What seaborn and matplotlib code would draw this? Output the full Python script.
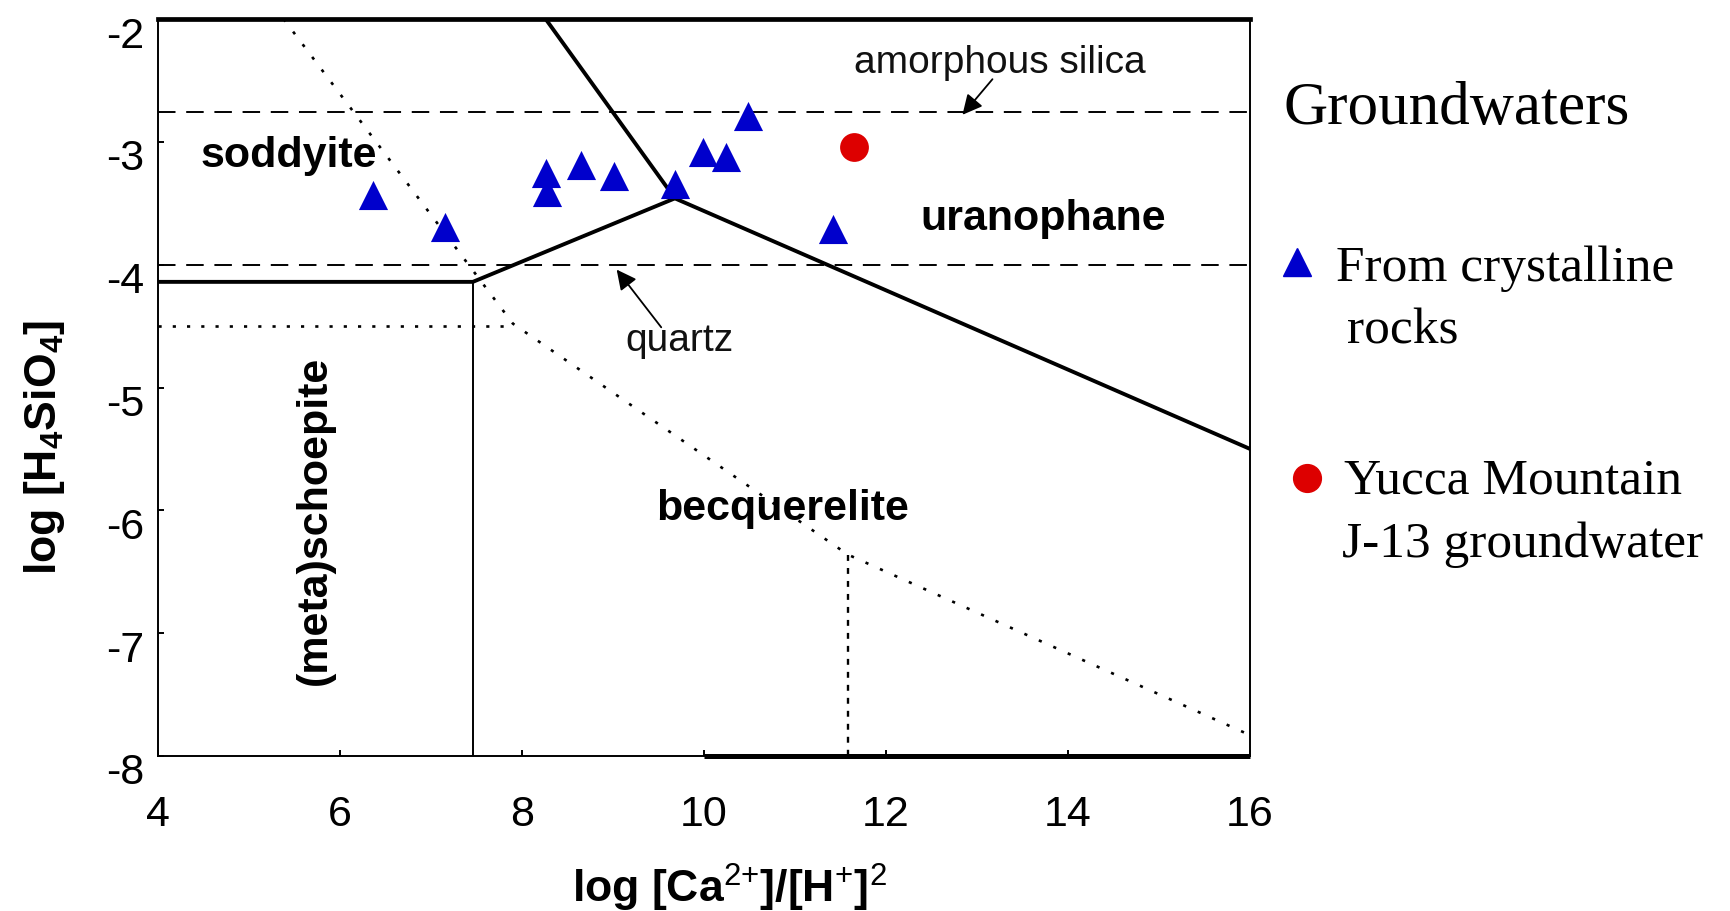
import matplotlib
matplotlib.use("Agg")
import matplotlib.pyplot as plt
import seaborn as sns
import pandas as pd
from matplotlib.transforms import ScaledTranslation
from matplotlib.lines import Line2D

# ---------------- data ----------------
x_ticks = [4, 6, 8, 10, 12, 14, 16]
y_ticks = [-8, -7, -6, -5, -4, -3, -2]

# groundwater samples
crystalline_x = [6.36, 7.15, 8.26, 8.28, 8.65, 9.01, 9.68, 9.99, 10.24, 10.48, 11.42]
crystalline_y = [-3.43, -3.69, -3.25, -3.41, -3.19, -3.28, -3.34, -3.08, -3.12, -2.79, -3.71]
yucca_x = [11.65]
yucca_y = [-3.04]

# stable phase boundaries (solid)
upper_bound_x = [8.26, 9.68]
upper_bound_y = [-2.0, -3.46]
lower_bound_x = [4.0, 7.46, 9.68, 16.0]
lower_bound_y = [-4.14, -4.14, -3.46, -5.50]
schoep_bound_x = [7.46, 7.46]
schoep_bound_y = [-4.14, -8.0]
bottom_bound_x = [10.0, 16.0]
bottom_bound_y = [-8.0, -8.0]

# metastable boundaries (dotted)
dot_curve_x = [5.38, 7.90, 11.58, 16.0]
dot_curve_y = [-2.0, -4.48, -6.36, -7.83]
dot_h_x = [4.0, 7.90]
dot_h_y = [-4.5, -4.5]
dot_v_x = [11.58, 11.58]
dot_v_y = [-6.36, -8.0]

# silica saturation levels (dashed)
amorphous_silica = -2.76
quartz = -4.0

# ---------------- style ----------------
sns.set_style("white")
plt.rcParams["font.family"] = ["Liberation Sans", "DejaVu Sans"]
plt.rcParams["mathtext.fontset"] = "custom"
plt.rcParams["mathtext.rm"] = "Liberation Sans"
plt.rcParams["mathtext.bf"] = "Liberation Sans:bold"
for k in ["text.color", "axes.labelcolor", "xtick.color", "ytick.color", "axes.edgecolor"]:
    plt.rcParams[k] = "black"

W, H = 1731, 912
fig = plt.figure(figsize=(W / 100, H / 100), dpi=100)
ax = fig.add_axes([158 / W, 1 - 757 / H, 1092 / W, 737 / H])

ax.set_xlim(4, 16)
ax.set_ylim(-8, -2)

black = "black"
thick = 2.8
thin = 1.4

# dashed silica lines
ax.axhline(amorphous_silica, color=black, lw=thin, ls=(0, (9, 5.5)))
ax.axhline(quartz, color=black, lw=thin, ls=(0, (9, 5.5)))

# dotted metastable lines
ax.plot(dot_curve_x, dot_curve_y, color=black, lw=1.9, ls=(0, (1.2, 4.8)))
ax.plot(dot_h_x, dot_h_y, color=black, lw=1.9, ls=(0, (1.2, 4.2)))
ax.plot(dot_v_x, dot_v_y, color=black, lw=1.7, ls=(0, (2.5, 3)))

# solid boundaries
ax.plot(upper_bound_x, upper_bound_y, color=black, lw=thick, solid_joinstyle="round")
ax.plot(lower_bound_x, lower_bound_y, color=black, lw=thick, solid_joinstyle="round")
ax.plot(schoep_bound_x, schoep_bound_y, color=black, lw=thin)
ax.plot(bottom_bound_x, bottom_bound_y, color=black, lw=3.6, clip_on=False,
        solid_capstyle="butt")

# samples
df_c = pd.DataFrame({"x": crystalline_x, "y": crystalline_y})
df_y = pd.DataFrame({"x": yucca_x, "y": yucca_y})
sns.scatterplot(data=df_c, x="x", y="y", marker="^", s=440, color="#0000cc",
                linewidth=0, ax=ax, zorder=5)
sns.scatterplot(data=df_y, x="x", y="y", marker="o", s=430, color="#dd0000",
                linewidth=0, ax=ax, zorder=5)

# region labels
lab_kw = dict(fontsize=31, fontweight="bold", ha="center", va="center", color=black)
ax.text(5.44, -3.11, "soddyite", **lab_kw)
ax.text(13.73, -3.62, "uranophane", **lab_kw)
ax.text(10.86, -5.98, "becquerelite", **lab_kw)
ax.text(5.72, -6.07, "(meta)schoepite", rotation=90, **lab_kw)

# silica annotations
ax.text(13.25, -2.35, "amorphous silica", fontsize=28, ha="center", va="center",
        color="#111111")
ax.annotate("", xy=(12.84, -2.78), xytext=(13.17, -2.49),
            arrowprops=dict(arrowstyle="-|>", color=black, lw=1.3,
                            mutation_scale=30, shrinkA=0, shrinkB=0))
ax.text(9.73, -4.61, "quartz", fontsize=28, ha="center", va="center", color="#111111")
ax.annotate("", xy=(9.04, -4.04), xytext=(9.53, -4.51),
            arrowprops=dict(arrowstyle="-|>", color=black, lw=1.3,
                            mutation_scale=30, shrinkA=0, shrinkB=0))

# axes / spines
for side in ["left", "right", "bottom"]:
    ax.spines[side].set_linewidth(thin)
    ax.spines[side].set_color(black)
ax.spines["top"].set_linewidth(3.4)
ax.spines["top"].set_color(black)

ax.set_xticks(x_ticks)
ax.set_yticks(y_ticks)
ax.set_xticklabels([str(v) for v in x_ticks])
ax.set_yticklabels([str(v) for v in y_ticks])
ax.tick_params(axis="both", direction="in", length=4.5, width=thin, colors=black,
               labelsize=31, top=False, right=False, left=True, bottom=True)
ax.tick_params(axis="x", pad=27)
ax.tick_params(axis="y", pad=10)
offset = ScaledTranslation(0, -12 / 100, fig.dpi_scale_trans)
for lbl in ax.get_yticklabels():
    lbl.set_transform(lbl.get_transform() + offset)

ax.set_xlabel(r"log [Ca$^{2{+}}$]/[H$^{{+}}$]$^{2}$", fontsize=32, fontweight="bold")
ax.set_ylabel(r"log [H$_\mathbf{4}$SiO$_\mathbf{4}$]", fontsize=32, fontweight="bold")
ax.xaxis.set_label_coords(0.523, -0.1425)
ax.yaxis.set_label_coords(-0.083, 0.42)

# legend (drawn at the right of the plot)
serif = ["Liberation Serif", "DejaVu Serif"]
fig.text(1284 / W, 1 - 124 / H, "Groundwaters", family=serif, fontsize=44,
         va="baseline", color=black)
fig.add_artist(Line2D([1297 / W], [1 - 263 / H], marker="^", markersize=20,
                      color="#0000cc", linestyle="none", transform=fig.transFigure))
fig.text(1336 / W, 1 - 280.5 / H, "From crystalline", family=serif, fontsize=37,
         va="baseline", color=black)
fig.text(1347 / W, 1 - 343.5 / H, "rocks", family=serif, fontsize=37, va="baseline",
         color=black)
fig.add_artist(Line2D([1307 / W], [1 - 479 / H], marker="o", markersize=20,
                      color="#dd0000", linestyle="none", transform=fig.transFigure))
fig.text(1344 / W, 1 - 494 / H, "Yucca Mountain", family=serif, fontsize=37,
         va="baseline", color=black)
fig.text(1342 / W, 1 - 557 / H, "J-13 groundwater", family=serif, fontsize=37,
         va="baseline", color=black)

fig.savefig("out.png", dpi=100)
